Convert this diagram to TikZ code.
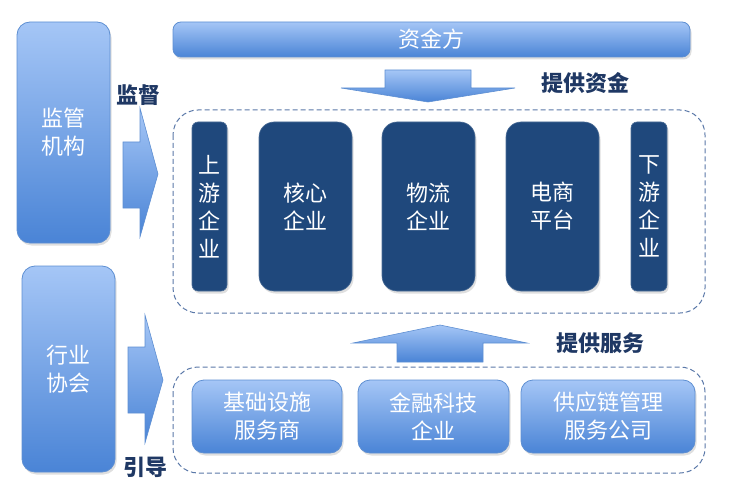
\documentclass[tikz,border=0pt]{standalone}
\usepackage{fontspec}
\setmainfont{Noto Sans CJK SC}
\newfontfamily\cjk{Noto Sans CJK SC}
\usetikzlibrary{shadows}
\definecolor{lighttop}{HTML}{A5C6F6}
\definecolor{lightbot}{HTML}{4A84D6}
\definecolor{lightedge}{HTML}{5E8FD2}
\definecolor{darkbox}{HTML}{1F487C}
\definecolor{labelc}{HTML}{1F3864}
\definecolor{dashc}{HTML}{5A78A8}
\tikzset{
  lightbox/.style={draw=lightedge, line width=0.8pt, top color=lighttop, bottom color=lightbot,
    text=white, align=center, inner sep=0pt, font=\cjk\fontsize{22}{28}\selectfont,
    drop shadow={shadow xshift=1.5pt, shadow yshift=-2.5pt, opacity=0.25}},
  darkbox/.style={draw=darkbox!80!white, line width=0.6pt, fill=darkbox, text=white, align=center,
    inner sep=0pt, font=\cjk\fontsize{22}{28}\selectfont,
    drop shadow={shadow xshift=1.5pt, shadow yshift=-2.5pt, opacity=0.25}},
  groupbox/.style={draw=dashc, line width=1pt, dash pattern=on 5pt off 3pt, rounded corners=25pt},
  arrowshape/.style={draw=lightedge, line width=0.6pt, top color=lighttop, bottom color=lightbot},
  lbl/.style={text=labelc, font=\cjk\bfseries\fontsize{22}{26}\selectfont, inner sep=0pt}
}
\begin{document}
\begin{tikzpicture}[x=1pt,y=-1pt]
\useasboundingbox (0,0) rectangle (741,497);
% dashed groups
\draw[groupbox] (173,110) rectangle (705,313);
\draw[groupbox] (173,367) rectangle (705,473);
% left boxes
\node[lightbox, rounded corners=13pt, minimum width=93pt, minimum height=221pt] (reg) at (63.5,132.5) {监管\\机构};
\node[lightbox, rounded corners=13pt, minimum width=93pt, minimum height=206pt] (assoc) at (68.5,369) {行业\\协会};
% funder
\node[lightbox, rounded corners=8pt, minimum width=517pt, minimum height=35pt] (fund) at (431.5,39.5) {资金方};
% dark boxes
\node[darkbox, rounded corners=6pt, minimum width=35pt, minimum height=169pt] (up) at (209.5,206.5) {上\\游\\企\\业};
\node[darkbox, rounded corners=15pt, minimum width=93pt, minimum height=169pt] (core) at (305.5,206.5) {核心\\企业};
\node[darkbox, rounded corners=15pt, minimum width=93pt, minimum height=169pt] (logi) at (428.5,206.5) {物流\\企业};
\node[darkbox, rounded corners=15pt, minimum width=93pt, minimum height=169pt] (ecom) at (552.5,206.5) {电商\\平台};
\node[darkbox, rounded corners=6pt, minimum width=36pt, minimum height=169pt] (down) at (649,206.5) {下\\游\\企\\业};
% service boxes
\node[lightbox, rounded corners=12pt, minimum width=150pt, minimum height=73pt] (infra) at (267,416.5) {基础设施\\服务商};
\node[lightbox, rounded corners=12pt, minimum width=151pt, minimum height=73pt] (fintech) at (433.5,416.5) {金融科技\\企业};
\node[lightbox, rounded corners=12pt, minimum width=174pt, minimum height=73pt] (scm) at (608,416.5) {供应链管理\\服务公司};
% arrows
\draw[arrowshape] (385,70) -- (471,70) -- (471,88) -- (515,88) -- (428,102) -- (341,88) -- (385,88) -- cycle;
\draw[arrowshape] (397,362) -- (483,362) -- (483,343) -- (527,343) -- (440,325) -- (353,343) -- (397,343) -- cycle;
\draw[arrowshape] (123,142) -- (140,142) -- (140,108) -- (158,174) -- (140,237) -- (140,208) -- (123,208) -- cycle;
\draw[arrowshape] (128,347) -- (145,347) -- (145,315) -- (163,380) -- (145,443) -- (145,413) -- (128,413) -- cycle;
% labels
\node[lbl] (l1) at (138,95) {监督};
\node[lbl] (l2) at (585,83) {提供资金};
\node[lbl] (l3) at (600,343) {提供服务};
\node[lbl] (l4) at (145,467) {引导};
\end{tikzpicture}
\end{document}
